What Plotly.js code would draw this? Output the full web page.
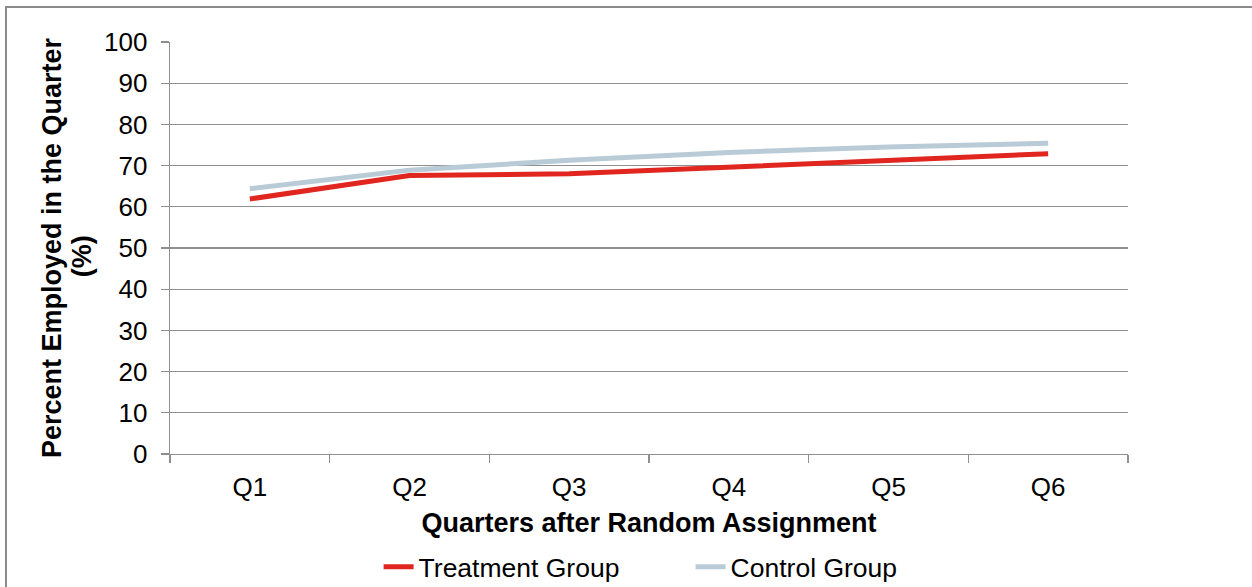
<!DOCTYPE html>
<html>
<head>
<meta charset="utf-8">
<script src="https://cdn.plot.ly/plotly-3.0.1.min.js"></script>
<style>
  html, body { margin: 0; padding: 0; background: #ffffff; }
  #chart { width: 1252px; height: 587px; }
</style>
</head>
<body>
<div id="chart"></div>
<script>
const quarters = ["Q1", "Q2", "Q3", "Q4", "Q5", "Q6"];
const treatmentGroup = [61.9, 67.6, 68.0, 69.7, 71.2, 72.9];
const controlGroup = [64.4, 68.9, 71.3, 73.2, 74.5, 75.4];
const yTickValues = [0, 10, 20, 30, 40, 50, 60, 70, 80, 90, 100];

const FONT = "Liberation Sans, Arial, sans-serif";

const traces = [
  {
    type: "scatter",
    mode: "lines",
    name: "Treatment Group",
    x: quarters,
    y: treatmentGroup,
    line: { color: "#e0261f", width: 5 },
    hoverinfo: "skip"
  },
  {
    type: "scatter",
    mode: "lines",
    name: "Control Group",
    x: quarters,
    y: controlGroup,
    line: { color: "#b9cbd6", width: 5 },
    hoverinfo: "skip"
  }
];

const layout = {
  width: 1252,
  height: 587,
  margin: { l: 170, r: 124, t: 42, b: 133, autoexpand: false },
  paper_bgcolor: "#ffffff",
  plot_bgcolor: "#ffffff",
  font: { family: FONT, color: "#000000", size: 26 },
  showlegend: true,
  legend: {
    orientation: "h",
    xref: "container",
    yref: "container",
    x: 0.3024,
    xanchor: "left",
    y: 0.034,
    yanchor: "middle",
    font: { family: FONT, size: 26.5, color: "#000000" },
    entrywidth: 267,
    itemwidth: 30,
    bgcolor: "rgba(0,0,0,0)"
  },
  xaxis: {
    type: "category",
    range: [-0.5, 5.5],
    tickson: "boundaries",
    ticks: "outside",
    ticklen: 8,
    tickcolor: "#8f8f8f",
    tickwidth: 1.3,
    showline: true,
    linecolor: "#8f8f8f",
    linewidth: 1.3,
    showgrid: false,
    zeroline: false,
    automargin: false,
    tickfont: { family: FONT, size: 26, color: "#000000" },
    ticklabelstandoff: 9,
    title: {
      text: "<b>Quarters after Random Assignment</b>",
      font: { family: FONT, size: 27, color: "#000000" },
      standoff: 12
    },
    fixedrange: true
  },
  yaxis: {
    range: [0, 100],
    tickvals: yTickValues,
    ticktext: yTickValues.map(String),
    ticks: "outside",
    ticklen: 8,
    tickcolor: "#8f8f8f",
    tickwidth: 1.3,
    showline: true,
    linecolor: "#8f8f8f",
    linewidth: 1.3,
    showgrid: true,
    gridcolor: "#8f8f8f",
    gridwidth: 1.3,
    zeroline: false,
    automargin: false,
    tickfont: { family: FONT, size: 26, color: "#000000" },
    ticklabelstandoff: 8,
    title: {
      text: "<b>Percent Employed in the Quarter</b>",
      font: { family: FONT, size: 27, color: "#000000" },
      standoff: 34
    },
    fixedrange: true
  },
  annotations: [
    {
      text: "<b>(%)</b>",
      xref: "paper",
      yref: "paper",
      x: 0,
      xshift: -88,
      y: 0.48,
      xanchor: "center",
      yanchor: "middle",
      textangle: -90,
      showarrow: false,
      font: { family: FONT, size: 27, color: "#000000" }
    }
  ],
  shapes: [
    {
      type: "rect",
      xref: "paper",
      yref: "paper",
      x0: -0.1712,
      x1: 1.3,
      y0: -0.6,
      y1: 1.085,
      line: { color: "#8a8a8a", width: 2 },
      fillcolor: "rgba(0,0,0,0)",
      layer: "below"
    }
  ]
};

Plotly.newPlot("chart", traces, layout, { displayModeBar: false, staticPlot: true });
</script>
</body>
</html>
